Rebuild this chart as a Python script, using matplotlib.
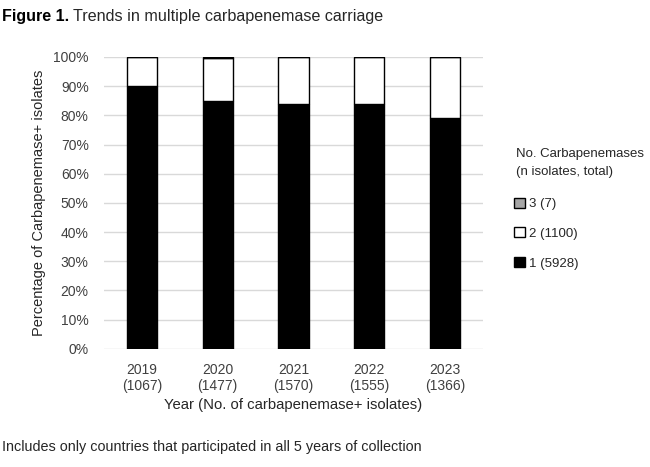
import matplotlib
matplotlib.use("Agg")
import matplotlib.pyplot as plt
from matplotlib.patches import Patch

plt.rcParams['font.family'] = ['Liberation Sans', 'DejaVu Sans']

years = ["2019", "2020", "2021", "2022", "2023"]
n_isolates = [1067, 1477, 1570, 1555, 1366]
pct_one = [90.0, 85.0, 84.0, 84.0, 79.0]
pct_two = [10.0, 14.5, 16.0, 16.0, 21.0]
pct_three = [0.0, 0.5, 0.0, 0.0, 0.0]
legend_labels = ["3 (7)", "2 (1100)", "1 (5928)"]

labels = [f"{y}\n({n})" for y, n in zip(years, n_isolates)]
x = list(range(len(years)))

fig = plt.figure(figsize=(6.5, 4.67), dpi=100)
ax = fig.add_axes([0.16, 0.253, 0.583, 0.625])

w = 0.4
ax.bar(x, pct_one, w, color="black", edgecolor="black", linewidth=1, zorder=3)
ax.bar(x, pct_two, w, bottom=pct_one, color="white", edgecolor="black", linewidth=1, zorder=3)
bot3 = [a + b for a, b in zip(pct_one, pct_two)]
ax.bar(x, pct_three, w, bottom=bot3, color="#a6a6a6", edgecolor="black", linewidth=1, zorder=3)

ax.set_xlim(-0.5, len(years) - 0.5)
ax.set_ylim(0, 100)
ax.set_yticks(range(0, 101, 10))
ax.set_yticklabels([f"{v}%" for v in range(0, 101, 10)])
ax.set_xticks(x)
ax.set_xticklabels(labels, linespacing=1.25)
ax.tick_params(axis="both", length=0, labelsize=10, colors="#404040")
ax.tick_params(axis="y", pad=11)
ax.tick_params(axis="x", pad=10)
ax.yaxis.grid(True, color="#d9d9d9", linewidth=1, zorder=0)
for s in ax.spines.values():
    s.set_visible(False)

ax.set_xlabel("Year (No. of carbapenemase+ isolates)", fontsize=10.7, color="#262626", labelpad=3)
ax.set_ylabel("Percentage of Carbapenemase+ isolates", fontsize=10.5, color="#262626", labelpad=5)

# legend title drawn separately for line spacing control
fig.text(516 / 650, 1 - 163 / 467, "No. Carbapenemases\n(n isolates, total)", fontsize=9.5,
         color="#262626", ha="left", va="center", linespacing=1.75)

handles = [Patch(facecolor="#a6a6a6", edgecolor="black"),
           Patch(facecolor="white", edgecolor="black"),
           Patch(facecolor="black", edgecolor="black")]
leg = fig.legend(handles, legend_labels,
                 loc="upper left", bbox_to_anchor=(0.775, 1 - 187 / 467), frameon=False,
                 fontsize=9.5, handlelength=0.8, handleheight=0.8,
                 handletextpad=0.3, labelspacing=1.3, borderpad=0.3)
for t in leg.get_texts():
    t.set_color("#262626")

# title: bold prefix + normal text
t1 = fig.text(0.003, 0.965, "Figure 1.", fontsize=11.5, fontweight="bold", va="center", ha="left")
fig.canvas.draw()
bb = t1.get_window_extent()
fig.text((bb.x1 + 4) / fig.bbox.width, 0.965, "Trends in multiple carbapenemase carriage",
         fontsize=11.6, va="center", ha="left", color="#262626")

fig.text(0.003, 0.043, "Includes only countries that participated in all 5 years of collection",
         fontsize=10.4, va="center", ha="left", color="#262626")

fig.savefig("out.png", dpi=100)
